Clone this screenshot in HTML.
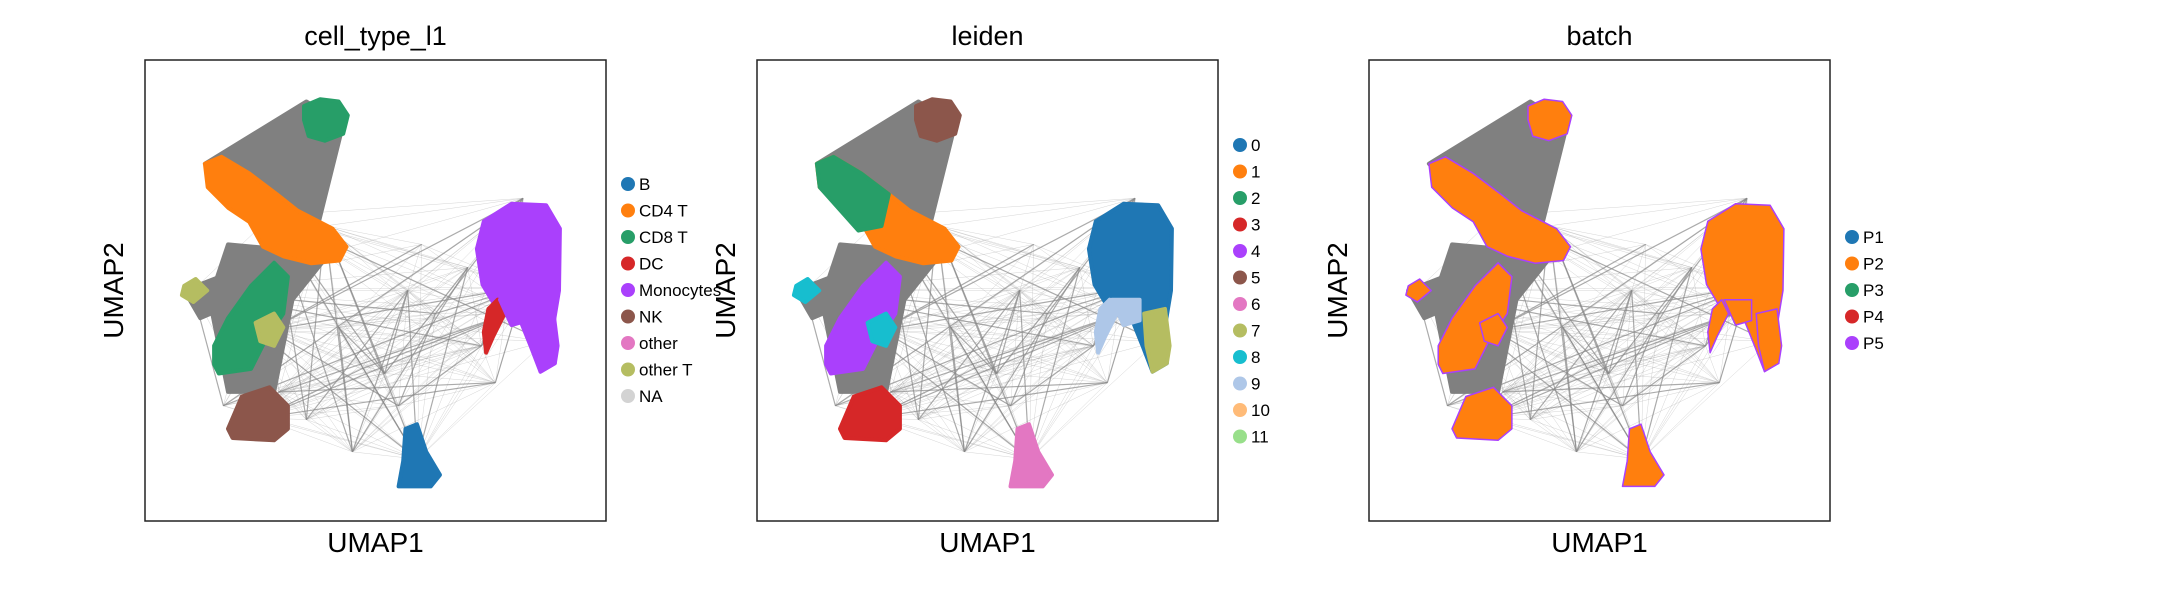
<!DOCTYPE html>
<html><head><meta charset="utf-8"><style>
html,body{margin:0;padding:0;background:#fff}
svg{display:block;font-family:"Liberation Sans",sans-serif}
</style></head><body>
<svg id="fig" width="2173" height="600" viewBox="0 0 2173 600" xmlns="http://www.w3.org/2000/svg"></svg>
<script>
// ---- data (normalized UMAP coordinates 0..1, y down) ----
const panelTitles = ["cell_type_l1", "leiden", "batch"];
const ctCategories = ["B","CD4 T","CD8 T","DC","Monocytes","NK","other","other T","NA"];
const ctColors = ["#1f77b4","#ff7f0e","#279e68","#d62728","#aa40fc","#8c564b","#e377c2","#b5bd61","#d3d3d3"];
const leidenCategories = ["0","1","2","3","4","5","6","7","8","9","10","11"];
const leidenColors = ["#1f77b4","#ff7f0e","#279e68","#d62728","#aa40fc","#8c564b","#e377c2","#b5bd61","#17becf","#aec7e8","#ffbb78","#98df8a"];
const batchCategories = ["P1","P2","P3","P4","P5"];
const batchColors = ["#1f77b4","#ff7f0e","#279e68","#d62728","#aa40fc"];
const blobNames = ["cd8top","cd4","mono","dc","bcell","nk","cd8low","otherTleft","otherTmid","mono_low","mono_lb"];
const blobPts = [
 [[0.345,0.10],[0.38,0.085],[0.42,0.09],[0.44,0.12],[0.43,0.16],[0.39,0.175],[0.355,0.165],[0.345,0.13]],
 [[0.13,0.225],[0.166,0.21],[0.226,0.246],[0.286,0.291],[0.331,0.327],[0.407,0.366],[0.437,0.405],[0.422,0.435],[0.361,0.441],[0.301,0.426],[0.256,0.405],[0.226,0.351],[0.181,0.321],[0.136,0.276]],
 [[0.72,0.41],[0.735,0.35],[0.795,0.312],[0.87,0.315],[0.90,0.366],[0.898,0.50],[0.883,0.59],[0.889,0.658],[0.858,0.676],[0.837,0.622],[0.813,0.562],[0.768,0.547],[0.732,0.487]],
 [[0.745,0.54],[0.765,0.52],[0.78,0.55],[0.755,0.60],[0.74,0.635],[0.735,0.59]],
 [[0.565,0.80],[0.59,0.79],[0.61,0.85],[0.64,0.90],[0.62,0.925],[0.55,0.925],[0.56,0.87]],
 [[0.18,0.80],[0.21,0.73],[0.27,0.71],[0.31,0.75],[0.31,0.80],[0.28,0.825],[0.19,0.82]],
 [[0.15,0.62],[0.18,0.56],[0.23,0.49],[0.28,0.44],[0.31,0.47],[0.30,0.55],[0.26,0.61],[0.23,0.67],[0.16,0.68],[0.15,0.66]],
 [[0.085,0.49],[0.11,0.475],[0.135,0.50],[0.105,0.525],[0.08,0.51]],
 [[0.24,0.57],[0.28,0.55],[0.30,0.58],[0.28,0.62],[0.25,0.61]],
 [[0.84,0.55],[0.885,0.54],[0.895,0.62],[0.889,0.658],[0.858,0.676],[0.845,0.62]],
 [[0.77,0.52],[0.83,0.52],[0.83,0.565],[0.795,0.575]]
];
const blobCellType = [2,1,4,3,0,5,2,7,7,4,4];
const blobLeiden   = [5,1,0,9,6,3,4,8,8,7,9];
const blobBatch    = [1,1,1,1,1,1,1,1,1,1,1];
const bundles = [
 [[0.13,0.225],[0.35,0.09],[0.43,0.14],[0.37,0.38],[0.30,0.36],[0.20,0.30]],
 [[0.18,0.40],[0.40,0.42],[0.32,0.52],[0.28,0.72],[0.18,0.72],[0.14,0.52]],
 [[0.085,0.50],[0.24,0.44],[0.26,0.50],[0.12,0.56]]
];
const edgeNodes = [[0.57,0.50],[0.60,0.40],[0.73,0.62],[0.52,0.68],[0.47,0.67],[0.39,0.36],[0.82,0.30],[0.17,0.75],[0.45,0.85],[0.29,0.72],[0.70,0.45],[0.55,0.75],[0.63,0.55],[0.35,0.78],[0.76,0.70],[0.42,0.58]];

const boxes = [{x:145,y:60},{x:757,y:60},{x:1369,y:60}];
const W = 461, H = 461;
const NS = "http://www.w3.org/2000/svg";
const svg = document.getElementById("fig");
function el(tag, attrs, parent){const e=document.createElementNS(NS,tag);for(const k in attrs)e.setAttribute(k,attrs[k]);(parent||svg).appendChild(e);return e;}
function sx(b,v){return b.x+v*W;}
function sy(b,v){return b.y+v*H;}
function pts(b,arr){return arr.map(p=>sx(b,p[0]).toFixed(1)+","+sy(b,p[1]).toFixed(1)).join(" ");}

panelTitles.forEach((title,pi)=>{
  const b = boxes[pi];
  const g = el("g",{});
  
  
  const centers = blobPts.map(a=>[a.reduce((s,p)=>s+p[0],0)/a.length,a.reduce((s,p)=>s+p[1],0)/a.length]);
  const all = centers.concat(edgeNodes);
  const eg = el("g",{stroke:"#888",fill:"none"},g);
  
  
  for(let i=0;i<all.length;i++)for(let j=i+1;j<all.length;j++){
    if((i*7+j*3)%3===0) continue;
    const strong=((i+j)%5===0);
    el("line",{x1:sx(b,all[i][0]),y1:sy(b,all[i][1]),x2:sx(b,all[j][0]),y2:sy(b,all[j][1]),"stroke-width":strong?1.2:0.5,"stroke-opacity":strong?0.7:0.35},eg);
  }
  bundles.forEach(bp=>{
    const p = el("polygon",{points:pts(b,bp),fill:"#808080","stroke":"#808080","stroke-width":4,"stroke-linejoin":"round"},g);
    
    
  });
  blobPts.forEach((bp,bi)=>{
    let col;
    if(pi===0) col = ctColors[blobCellType[bi]];
    else if(pi===1) col = leidenColors[blobLeiden[bi]];
    else col = batchColors[blobBatch[bi]];
    const p = el("polygon",{points:pts(b,bp),fill:col,stroke:col,"stroke-width":4,"stroke-linejoin":"round"},g);
    if(pi===2){p.setAttribute("stroke","#aa40fc");p.setAttribute("stroke-width","1.5");}
    
    
  });
  if(pi===1){
    const p = el("polygon",{points:pts(b,[[0.13,0.225],[0.166,0.21],[0.226,0.246],[0.286,0.291],[0.27,0.36],[0.22,0.37],[0.136,0.276]]),fill:leidenColors[2],stroke:leidenColors[2],"stroke-width":4,"stroke-linejoin":"round"},g);
    
    
  }
  const frame = el("rect",{x:b.x,y:b.y,width:W,height:H,fill:"none",stroke:"#222","stroke-width":1.5},g);
  
  
  const t = el("text",{x:b.x+W/2,y:45,"text-anchor":"middle","font-size":27,fill:"#000"},g);
  t.textContent = title;
  
  
  const xl = el("text",{x:b.x+W/2,y:552,"text-anchor":"middle","font-size":28,fill:"#000"},g);
  xl.textContent = "UMAP1";
  
  
  const yl = el("text",{x:0,y:0,"text-anchor":"middle","font-size":28,fill:"#000",transform:"translate("+(b.x-22)+","+(b.y+H/2)+") rotate(-90)"},g);
  yl.textContent = "UMAP2";
  
  
  const cats = pi===0?ctCategories:pi===1?leidenCategories:batchCategories;
  const cols = pi===0?ctColors:pi===1?leidenColors:batchColors;
  const ly0 = pi===0?184:pi===1?145:237;
  const lg = el("g",{},g);
  
  
  cats.forEach((c,ci)=>{
    const y = ly0 + ci*26.5;
    const e = el("g",{},lg);
    
    
    el("circle",{cx:b.x+W+22,cy:y,r:7,fill:cols[ci]},e);
    const tx = el("text",{x:b.x+W+33,y:y+6,"font-size":17,fill:"#000"},e);
    tx.textContent = c;
  });
});
</script>
</body></html>
